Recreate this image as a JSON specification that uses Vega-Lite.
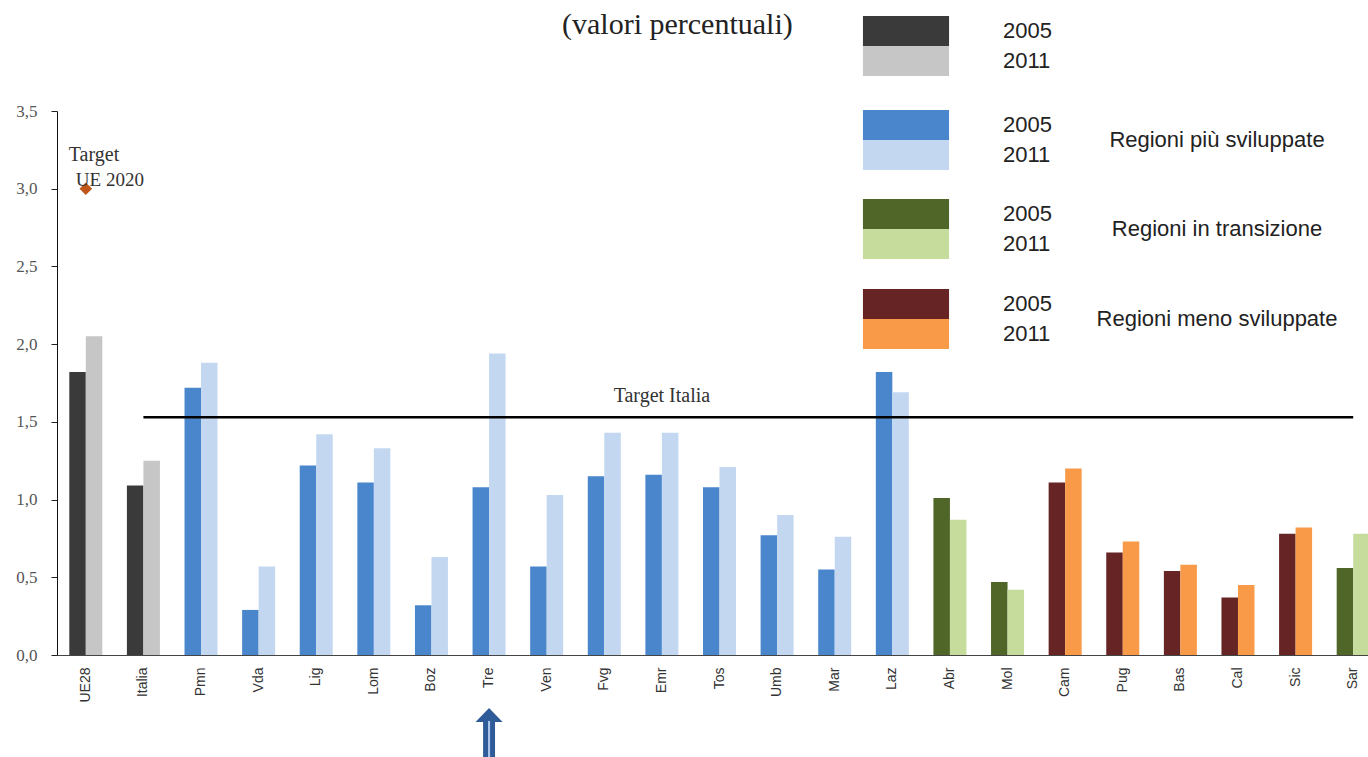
{
  "$schema": "https://vega.github.io/schema/vega-lite/v6.json",
  "autosize": "none",
  "width": 1311,
  "height": 544,
  "padding": {"left": 57, "top": 111, "right": 0, "bottom": 102},
  "background": "white",
  "title": {
    "text": "(valori percentuali)",
    "anchor": "start",
    "frame": "group",
    "font": "Liberation Serif",
    "fontSize": 30,
    "fontWeight": "normal",
    "color": "#222222",
    "baseline": "alphabetic",
    "offset": 0,
    "dx": 505,
    "dy": 48
  },
  "datasets": {
    "bars": [
      {"region": "UE28", "group": "grey", "year": "2005", "value": 1.82},
      {"region": "UE28", "group": "grey", "year": "2011", "value": 2.05},
      {"region": "Italia", "group": "grey", "year": "2005", "value": 1.09},
      {"region": "Italia", "group": "grey", "year": "2011", "value": 1.25},
      {"region": "Pmn", "group": "piu", "year": "2005", "value": 1.72},
      {"region": "Pmn", "group": "piu", "year": "2011", "value": 1.88},
      {"region": "Vda", "group": "piu", "year": "2005", "value": 0.29},
      {"region": "Vda", "group": "piu", "year": "2011", "value": 0.57},
      {"region": "Lig", "group": "piu", "year": "2005", "value": 1.22},
      {"region": "Lig", "group": "piu", "year": "2011", "value": 1.42},
      {"region": "Lom", "group": "piu", "year": "2005", "value": 1.11},
      {"region": "Lom", "group": "piu", "year": "2011", "value": 1.33},
      {"region": "Boz", "group": "piu", "year": "2005", "value": 0.32},
      {"region": "Boz", "group": "piu", "year": "2011", "value": 0.63},
      {"region": "Tre", "group": "piu", "year": "2005", "value": 1.08},
      {"region": "Tre", "group": "piu", "year": "2011", "value": 1.94},
      {"region": "Ven", "group": "piu", "year": "2005", "value": 0.57},
      {"region": "Ven", "group": "piu", "year": "2011", "value": 1.03},
      {"region": "Fvg", "group": "piu", "year": "2005", "value": 1.15},
      {"region": "Fvg", "group": "piu", "year": "2011", "value": 1.43},
      {"region": "Emr", "group": "piu", "year": "2005", "value": 1.16},
      {"region": "Emr", "group": "piu", "year": "2011", "value": 1.43},
      {"region": "Tos", "group": "piu", "year": "2005", "value": 1.08},
      {"region": "Tos", "group": "piu", "year": "2011", "value": 1.21},
      {"region": "Umb", "group": "piu", "year": "2005", "value": 0.77},
      {"region": "Umb", "group": "piu", "year": "2011", "value": 0.90},
      {"region": "Mar", "group": "piu", "year": "2005", "value": 0.55},
      {"region": "Mar", "group": "piu", "year": "2011", "value": 0.76},
      {"region": "Laz", "group": "piu", "year": "2005", "value": 1.82},
      {"region": "Laz", "group": "piu", "year": "2011", "value": 1.69},
      {"region": "Abr", "group": "trans", "year": "2005", "value": 1.01},
      {"region": "Abr", "group": "trans", "year": "2011", "value": 0.87},
      {"region": "Mol", "group": "trans", "year": "2005", "value": 0.47},
      {"region": "Mol", "group": "trans", "year": "2011", "value": 0.42},
      {"region": "Cam", "group": "meno", "year": "2005", "value": 1.11},
      {"region": "Cam", "group": "meno", "year": "2011", "value": 1.20},
      {"region": "Pug", "group": "meno", "year": "2005", "value": 0.66},
      {"region": "Pug", "group": "meno", "year": "2011", "value": 0.73},
      {"region": "Bas", "group": "meno", "year": "2005", "value": 0.54},
      {"region": "Bas", "group": "meno", "year": "2011", "value": 0.58},
      {"region": "Cal", "group": "meno", "year": "2005", "value": 0.37},
      {"region": "Cal", "group": "meno", "year": "2011", "value": 0.45},
      {"region": "Sic", "group": "meno", "year": "2005", "value": 0.78},
      {"region": "Sic", "group": "meno", "year": "2011", "value": 0.82},
      {"region": "Sar", "group": "trans", "year": "2005", "value": 0.56},
      {"region": "Sar", "group": "trans", "year": "2011", "value": 0.78}
    ],
    "targets": [
      {"name": "Target Italia", "from": "Italia", "to": "Sar", "label": "Emr", "value": 1.53}
    ],
    "ue": [
      {"region": "UE28", "value": 3.0, "line1": "Target", "line2": "UE 2020", "y1": 3.18, "y2": 3.02}
    ],
    "arrow": [
      {"region": "Tre", "value": -0.508}
    ]
  },
  "data": {"name": "bars"},
  "encoding": {
    "x": {
      "field": "region",
      "type": "nominal",
      "sort": null,
      "scale": {
        "domain": ["UE28", "Italia", "Pmn", "Vda", "Lig", "Lom", "Boz", "Tre", "Ven", "Fvg", "Emr", "Tos", "Umb", "Mar", "Laz", "Abr", "Mol", "Cam", "Pug", "Bas", "Cal", "Sic", "Sar"],
        "range": [0, 1325],
        "paddingInner": 0.427,
        "paddingOuter": 0.2135
      },
      "axis": {
        "title": null,
        "labelAngle": -90,
        "labelFont": "Liberation Sans",
        "labelFontSize": 14,
        "labelColor": "#333333",
        "labelPadding": 12,
        "ticks": false,
        "domainColor": "#444444",
        "domainWidth": 1.2
      }
    },
    "y": {
      "field": "value",
      "type": "quantitative",
      "scale": {"domain": [0, 3.5], "nice": false, "zero": true},
      "axis": {
        "title": null,
        "values": [0, 0.5, 1, 1.5, 2, 2.5, 3, 3.5],
        "format": ".1f",
        "labelExpr": "replace(datum.label, '.', ',')",
        "labelFont": "Liberation Serif",
        "labelFontSize": 17,
        "labelColor": "#555555",
        "labelPadding": 14,
        "tickSize": 6,
        "tickColor": "#222222",
        "domainColor": "#111111",
        "grid": false
      }
    }
  },
  "layer": [
    {
      "transform": [{"filter": "datum.group == 'grey'"}],
      "mark": {"type": "bar"},
      "encoding": {
        "xOffset": {"field": "year", "type": "nominal"},
        "color": {
          "field": "year",
          "type": "nominal",
          "scale": {"domain": ["2005", "2011"], "range": ["#3a3a3a", "#c6c6c6"]},
          "legend": {"title": null, "legendX": 834, "legendY": -95}
        }
      }
    },
    {
      "transform": [{"filter": "datum.group == 'piu'"}],
      "mark": {"type": "bar"},
      "encoding": {
        "xOffset": {"field": "year", "type": "nominal"},
        "color": {
          "field": "year",
          "type": "nominal",
          "scale": {"domain": ["2005", "2011"], "range": ["#4a86cb", "#c3d8f0"]},
          "legend": {"title": "Regioni più sviluppate", "legendX": 834, "legendY": -1}
        }
      }
    },
    {
      "transform": [{"filter": "datum.group == 'trans'"}],
      "mark": {"type": "bar"},
      "encoding": {
        "xOffset": {"field": "year", "type": "nominal"},
        "color": {
          "field": "year",
          "type": "nominal",
          "scale": {"domain": ["2005", "2011"], "range": ["#4f6628", "#c6dc9c"]},
          "legend": {"title": "Regioni in transizione", "legendX": 834, "legendY": 88}
        }
      }
    },
    {
      "transform": [{"filter": "datum.group == 'meno'"}],
      "mark": {"type": "bar"},
      "encoding": {
        "xOffset": {"field": "year", "type": "nominal"},
        "color": {
          "field": "year",
          "type": "nominal",
          "scale": {"domain": ["2005", "2011"], "range": ["#662424", "#f89a48"]},
          "legend": {"title": "Regioni meno sviluppate", "legendX": 834, "legendY": 178}
        }
      }
    },
    {
      "data": {"name": "targets"},
      "mark": {"type": "rule", "color": "#000000", "strokeWidth": 2.5},
      "encoding": {
        "x": {"field": "from", "type": "nominal"},
        "x2": {"field": "to"},
        "y": {"field": "value", "type": "quantitative"}
      }
    },
    {
      "data": {"name": "targets"},
      "mark": {"type": "text", "font": "Liberation Serif", "fontSize": 20, "color": "#333333", "dy": -21, "baseline": "middle", "align": "center"},
      "encoding": {
        "x": {"field": "label", "type": "nominal"},
        "y": {"field": "value", "type": "quantitative"},
        "text": {"field": "name"}
      }
    },
    {
      "data": {"name": "ue"},
      "mark": {"type": "point", "shape": "diamond", "filled": true, "size": 160, "color": "#c0561a", "opacity": 1},
      "encoding": {
        "x": {"field": "region", "type": "nominal"},
        "y": {"field": "value", "type": "quantitative"}
      }
    },
    {
      "data": {"name": "ue"},
      "mark": {"type": "text", "font": "Liberation Serif", "fontSize": 20, "color": "#333333", "align": "left", "baseline": "alphabetic", "dx": -17},
      "encoding": {
        "x": {"field": "region", "type": "nominal"},
        "y": {"field": "y1", "type": "quantitative"},
        "text": {"field": "line1"}
      }
    },
    {
      "data": {"name": "ue"},
      "mark": {"type": "text", "font": "Liberation Serif", "fontSize": 19, "color": "#333333", "align": "left", "baseline": "alphabetic", "dx": -10},
      "encoding": {
        "x": {"field": "region", "type": "nominal"},
        "y": {"field": "y2", "type": "quantitative"},
        "text": {"field": "line2"}
      }
    },
    {
      "data": {"name": "arrow"},
      "mark": {"type": "point", "filled": true, "opacity": 1, "size": 2704, "color": "#2f5c98", "shape": "M0,-1L0.52,-0.46L0.23,-0.46L0.23,1.2L-0.23,1.2L-0.23,-0.46L-0.52,-0.46Z"},
      "encoding": {
        "x": {"field": "region", "type": "nominal"},
        "y": {"field": "value", "type": "quantitative"}
      }
    },
    {
      "data": {"name": "arrow"},
      "mark": {"type": "point", "filled": true, "opacity": 1, "size": 2704, "color": "#a8c4ea", "shape": "M-0.04,-0.5L0.04,-0.5L0.04,1.2L-0.04,1.2Z"},
      "encoding": {
        "x": {"field": "region", "type": "nominal"},
        "y": {"field": "value", "type": "quantitative"}
      }
    }
  ],
  "resolve": {"scale": {"color": "independent"}},
  "config": {
    "view": {"stroke": null},
    "legend": {
      "orient": "none",
      "padding": 0,
      "rowPadding": 0,
      "symbolType": "M-2.87,-1H2.87V1H-2.87Z",
      "symbolSize": 900,
      "symbolStrokeWidth": 0,
      "symbolOpacity": 1,
      "labelOffset": 82,
      "labelFont": "Liberation Sans",
      "labelFontSize": 22,
      "labelColor": "#222222",
      "titleOrient": "right",
      "titleFont": "Liberation Sans",
      "titleFontSize": 22,
      "titleFontWeight": "normal",
      "titleColor": "#222222",
      "titleAlign": "center",
      "titleBaseline": "middle",
      "titleAnchor": "middle",
      "titlePadding": 165,
      "titleLimit": 400
    }
  }
}
